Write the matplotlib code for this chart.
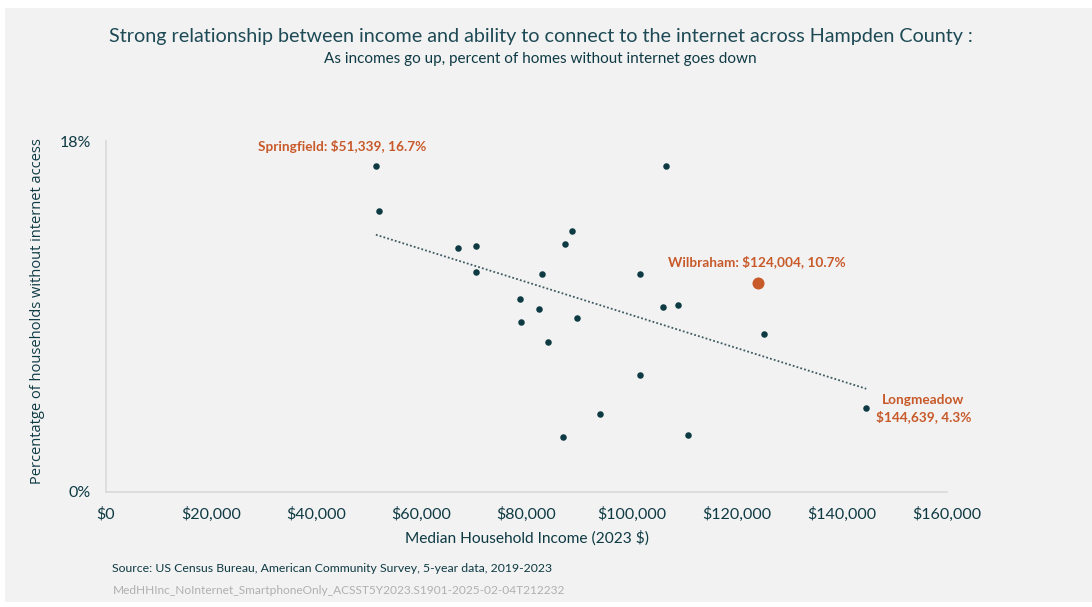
import numpy as np
import matplotlib.pyplot as plt
from matplotlib.patches import Rectangle

# median household income (2023 $) and % of households without internet
income = [51339, 51900, 67000, 70450, 70350, 78800, 79000, 82450, 82900, 84050,
          87350, 88650, 89650, 86900, 94050, 101550, 101650, 106550, 105950,
          108900, 110750, 124004, 125150, 144639]
no_internet = [16.7, 14.4, 12.5, 12.6, 11.3, 9.9, 8.7, 9.4, 11.2, 7.7,
               12.7, 13.4, 8.9, 2.8, 4.0, 6.0, 11.2, 16.7, 9.5,
               9.6, 2.9, 10.7, 8.1, 4.3]
highlight = "Wilbraham"
highlight_x, highlight_y = 124004, 10.7
xticks = [0, 20000, 40000, 60000, 80000, 100000, 120000, 140000, 160000]
yticks = [0, 18]

dark = '#0e3a44'
orange = '#c85a2a'
bg = '#f2f2f2'
narrow = ['Lato', 'DejaVu Sans']

fig = plt.figure(figsize=(10.92, 6.07), dpi=100)
fig.patch.set_facecolor('white')
fig.add_artist(Rectangle((0.005, 0.008), 0.995, 0.978, transform=fig.transFigure,
                         facecolor=bg, edgecolor='none', zorder=0))

ax = fig.add_axes([0.0971, 0.1895, 0.7701, 0.5782])
ax.set_facecolor(bg)
ax.patch.set_alpha(0)

x = np.array([v for v in income if v != highlight_x])
y = np.array([p for v, p in zip(income, no_internet) if v != highlight_x])
ax.scatter(x, y, s=22, color=dark, zorder=3, linewidths=0)
ax.scatter([highlight_x], [highlight_y], s=75, color=orange, zorder=3, linewidths=0)

# linear trend line over all points
xa = np.array(income)
ya = np.array(no_internet)
a, b = np.polyfit(xa, ya, 1)
xs = np.array([xa.min(), xa.max()])
ax.plot(xs, a * xs + b, linestyle=(0, (1, 1.2)), color='#3d5a60', linewidth=1.3, zorder=2)

ax.set_xlim(0, 160000)
ax.set_ylim(0, 18)
ax.set_xticks(xticks)
ax.set_xticklabels(['${:,}'.format(v) for v in xticks], fontsize=11.5,
                   color=dark, family=narrow)
ax.set_yticks(yticks)
ax.set_yticklabels(['{}%'.format(v) for v in yticks], fontsize=11.5,
                   color=dark, family=narrow)
ax.tick_params(length=0)
ax.tick_params(axis='x', pad=11)
ax.tick_params(axis='y', pad=11)
for s in ['top', 'right']:
    ax.spines[s].set_visible(False)
for s in ['left', 'bottom']:
    ax.spines[s].set_color('#d9d9d9')
    ax.spines[s].set_linewidth(1.2)

ax.set_xlabel('Median Household Income (2023 $)', fontsize=11.2, color=dark,
              family=narrow, labelpad=6)
ax.set_ylabel('Percentatge of households without internet access', fontsize=10.5,
              color=dark, family=['Open Sans', 'DejaVu Sans'])
ax.yaxis.set_label_coords(-0.072, 0.515)

ann = dict(color=orange, fontsize=9.8, fontweight='bold', family=narrow)
ax.annotate('Springfield: $51,339, 16.7%', (51339, 16.7), xytext=(-24, 14.5),
            textcoords='offset points', ha='center', va='center', **ann)
ax.annotate('Wilbraham: $124,004, 10.7%', (highlight_x, highlight_y), xytext=(-0.5, 15.8),
            textcoords='offset points', ha='center', va='center', **ann)
ax.annotate('Longmeadow\n$144,639, 4.3%', (144639, 4.3), xytext=(41, -0.5),
            textcoords='offset points', ha='center', va='center',
            linespacing=1.4, **ann)

fig.text(0.495, 0.94, 'Strong relationship between income and ability to connect to the internet across Hampden County :',
         ha='center', va='center', fontsize=14.2, color='#1d4a55', family=narrow)
fig.text(0.495, 0.903, 'As incomes go up, percent of homes without internet goes down',
         ha='center', va='center', fontsize=11, color=dark, family=narrow)
fig.text(0.103, 0.063, 'Source: US Census Bureau, American Community Survey, 5-year data, 2019-2023',
         ha='left', va='center', fontsize=8.8, color=dark, family=narrow)
fig.text(0.103, 0.027, 'MedHHInc_NoInternet_SmartphoneOnly_ACSST5Y2023.S1901-2025-02-04T212232',
         ha='left', va='center', fontsize=8.6, color='#b0b0b0', family=narrow)

fig.savefig('out.png', dpi=100, facecolor=fig.get_facecolor())
